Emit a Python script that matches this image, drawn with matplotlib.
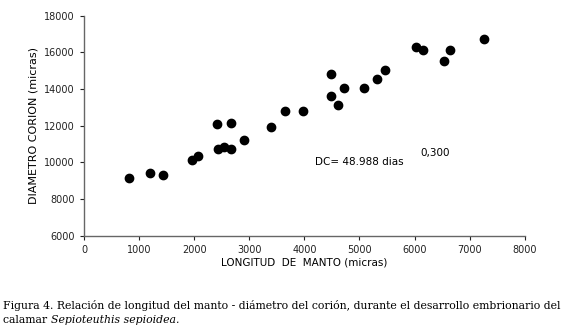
import matplotlib
matplotlib.use("Agg")
import matplotlib.pyplot as plt

# longitud del manto (micras) vs diametro del corion (micras)
longitud = [820, 1200, 1440, 1950, 2060, 2420, 2430, 2540, 2660, 2660, 2910,
            3400, 3650, 3980, 4480, 4480, 4610, 4720, 5090, 5320, 5460,
            6020, 6160, 6530, 6650, 7260]
diametro = [9160, 9430, 9330, 10110, 10360, 12080, 10730, 10850, 12170, 10730, 11220,
            11910, 12800, 12800, 14820, 13600, 13130, 14080, 14080, 14560, 15040,
            16310, 16130, 15510, 16110, 16730]
xticks = [0, 1000, 2000, 3000, 4000, 5000, 6000, 7000, 8000]
yticks = [6000, 8000, 10000, 12000, 14000, 16000, 18000]

fig = plt.figure(figsize=(5.76, 3.28), dpi=100)
ax = fig.add_axes([0.146, 0.281, 0.765, 0.671])

ax.plot(longitud, diametro, "o", color="black", markersize=6)

ax.set_xlim(0, 8000)
ax.set_ylim(6000, 18000)
ax.set_xticks(xticks)
ax.set_yticks(yticks)
ax.tick_params(labelsize=7, length=3, width=0.8, colors="#222222")
for s in ["top", "right"]:
    ax.spines[s].set_visible(False)
for s in ["left", "bottom"]:
    ax.spines[s].set_color("#666666")
    ax.spines[s].set_linewidth(1.0)

ax.set_xlabel("LONGITUD  DE  MANTO (micras)", fontsize=7.5, labelpad=2)
ax.set_ylabel("DIAMETRO CORION (micras)", fontsize=8, labelpad=4)

# formula
ax.text(4200, 10020, "DC= 48.988 dias", fontsize=7.5, va="center")
ax.text(6110, 10520, "0,300", fontsize=7.5, va="center")

# caption
fs = 7.8
fig.text(0.006, 0.070, "Figura 4. Relación de longitud del manto - diámetro del corión, "
         "durante el desarrollo embrionario del", fontsize=fs, family="DejaVu Serif",
         va="center")
t = fig.text(0.006, 0.024, "calamar ", fontsize=fs, family="DejaVu Serif", va="center")
r = fig.canvas.get_renderer()
x1 = fig.transFigure.inverted().transform(t.get_window_extent(r).p1)[0]
fig.text(x1, 0.024, "Sepioteuthis sepioidea.", fontsize=fs, family="DejaVu Serif",
         style="italic", va="center")

fig.savefig("out.png", dpi=100)
